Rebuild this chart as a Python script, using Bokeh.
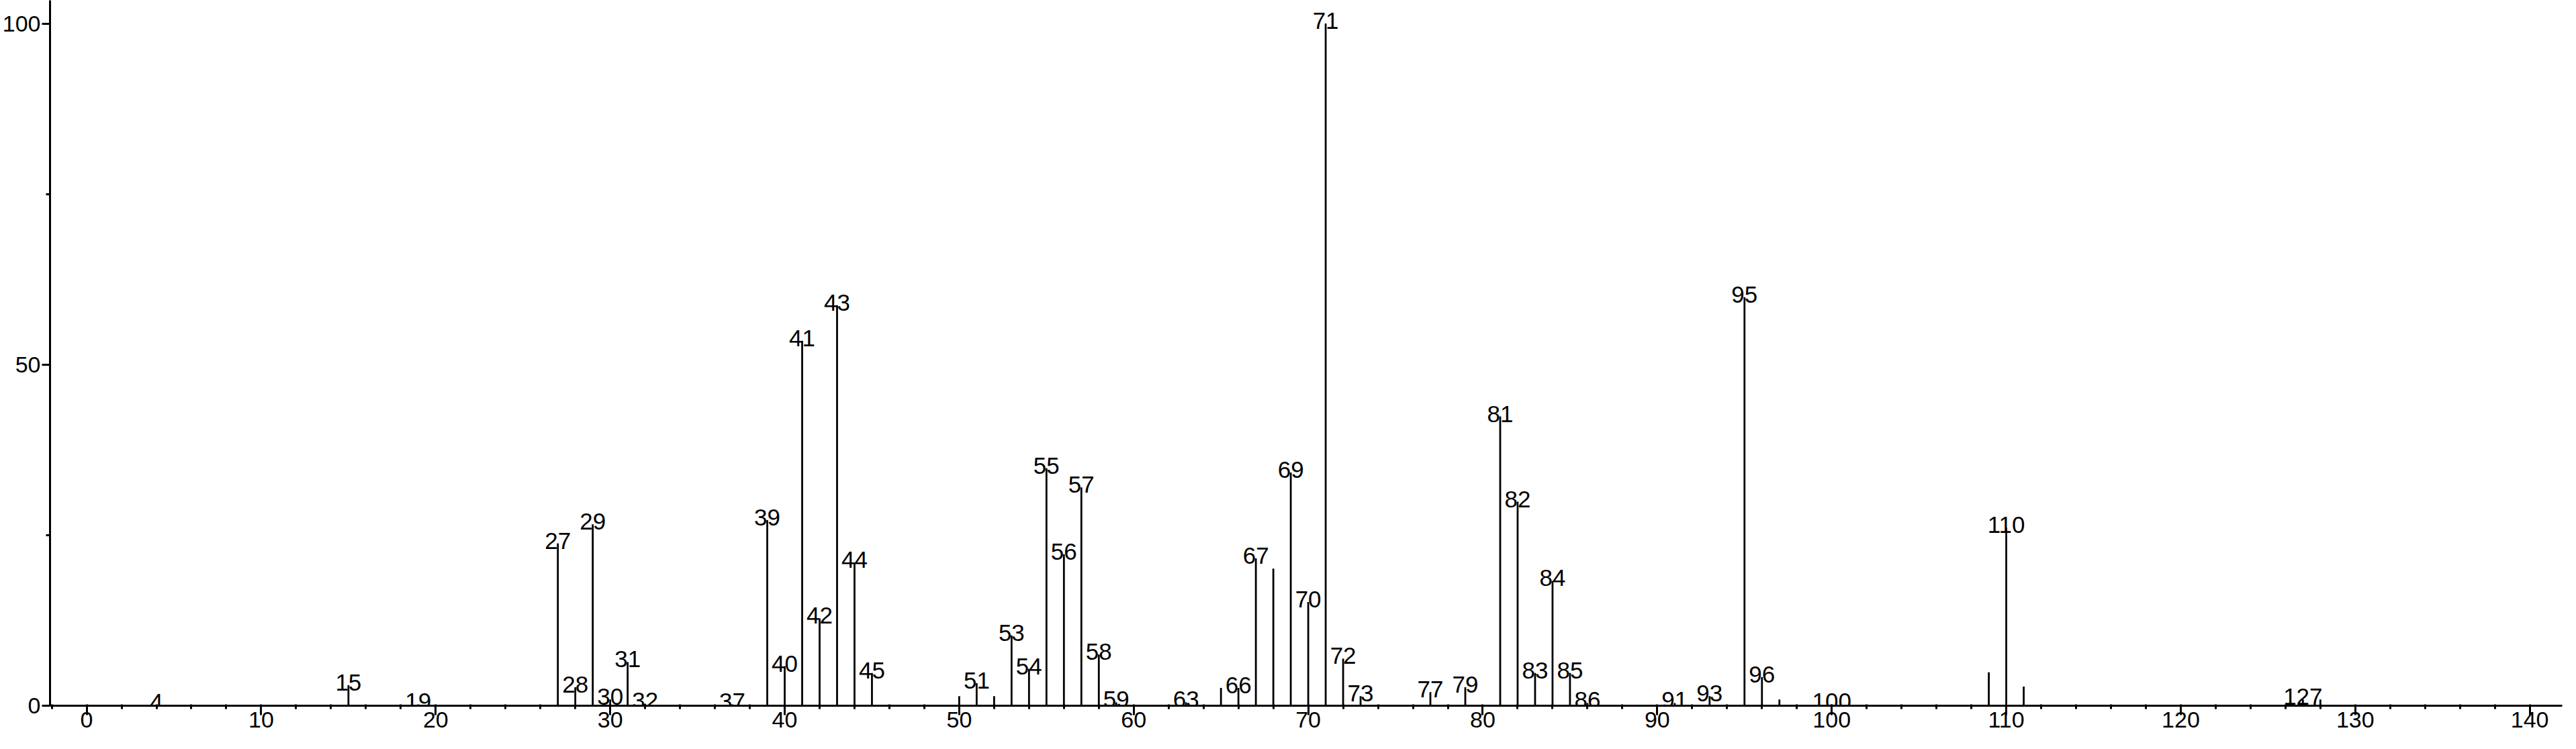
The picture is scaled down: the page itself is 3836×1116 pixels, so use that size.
from bokeh.plotting import figure
from bokeh.models import ColumnDataSource, SingleIntervalTicker, FixedTicker, Range1d
from bokeh.core.properties import value
from bokeh.embed import file_html
from bokeh.resources import INLINE

# m/z values and relative intensities
mz = [4, 15, 19, 27, 28, 29, 30, 31, 32, 37, 39, 40, 41, 42, 43, 44, 45,
      50, 51, 52, 53, 54, 55, 56, 57, 58, 59, 63, 65, 66, 67, 68, 69, 70,
      71, 72, 73, 77, 79, 81, 82, 83, 84, 85, 86, 91, 93, 95, 96, 97, 100,
      109, 110, 111, 127, 128]
intensity = [0.1, 3.0, 0.2, 23.8, 2.7, 26.6, 0.9, 6.4, 0.3, 0.2, 27.2, 5.8, 53.5, 12.8, 58.7, 21.0, 4.8,
             1.4, 3.3, 1.4, 10.3, 5.4, 34.8, 22.2, 32.0, 7.5, 0.5, 0.5, 2.6, 2.6, 21.6, 20.1, 34.2, 15.2,
             100.0, 6.9, 1.4, 2.0, 2.7, 42.4, 29.9, 4.8, 18.3, 4.8, 0.4, 0.4, 1.4, 59.9, 4.2, 0.9, 0.2,
             4.9, 26.1, 2.8, 0.9, 0.9]
labeled = [4, 15, 19, 27, 28, 29, 30, 31, 32, 37, 39, 40, 41, 42, 43, 44, 45,
           51, 53, 54, 55, 56, 57, 58, 59, 63, 66, 67, 69, 70, 71, 72, 73, 77, 79,
           81, 82, 83, 84, 85, 86, 91, 93, 95, 96, 100, 110, 127]
y_ticks = [0, 50, 100]
y_minor = [25, 75]

FONT = "Liberation Sans"
FS_LAB = "35px"
FS_AX = "34px"

src = ColumnDataSource(dict(x=mz, y0=[0] * len(mz), y=intensity))
lab_y = [intensity[mz.index(m)] for m in labeled]
lab_src = ColumnDataSource(dict(x=labeled, y=lab_y, t=[str(m) for m in labeled]))

p = figure(width=3820, height=1100, output_backend="svg", toolbar_location=None,
           x_range=Range1d(-2.1, 141.86), y_range=Range1d(0, 103.4),
           min_border_left=62, min_border_right=5, min_border_top=0, min_border_bottom=49)
p.grid.visible = False
p.outline_line_color = None
p.background_fill_color = "white"
p.border_fill_color = "white"

p.segment(x0="x", y0="y0", x1="x", y1="y", source=src, line_color="black", line_width=2.8)
p.text(x="x", y="y", text="t", source=lab_src, text_font=value(FONT), text_font_size=FS_LAB,
       text_align="center", text_baseline="alphabetic", y_offset=-4, text_color="black")

xa = p.xaxis[0]
xa.ticker = SingleIntervalTicker(interval=10, num_minor_ticks=5)
ya = p.yaxis[0]
ya.ticker = FixedTicker(ticks=y_ticks, minor_ticks=y_minor)

for ax in (xa, ya):
    ax.axis_line_color = "black"
    ax.axis_line_width = 3
    ax.major_tick_line_color = "black"
    ax.major_tick_line_width = 3
    ax.minor_tick_line_color = "black"
    ax.minor_tick_line_width = 3
    ax.major_label_text_font = FONT
    ax.major_label_text_font_size = FS_AX
    ax.major_label_text_color = "black"

xa.major_tick_out = 14
xa.major_tick_in = 0
xa.minor_tick_out = 5
xa.minor_tick_in = 2
xa.major_label_standoff = -5

ya.major_tick_out = 12
ya.major_tick_in = 0
ya.minor_tick_out = 6
ya.minor_tick_in = 0
ya.major_label_standoff = 2

open("out.html", "w").write(file_html(p, INLINE))
